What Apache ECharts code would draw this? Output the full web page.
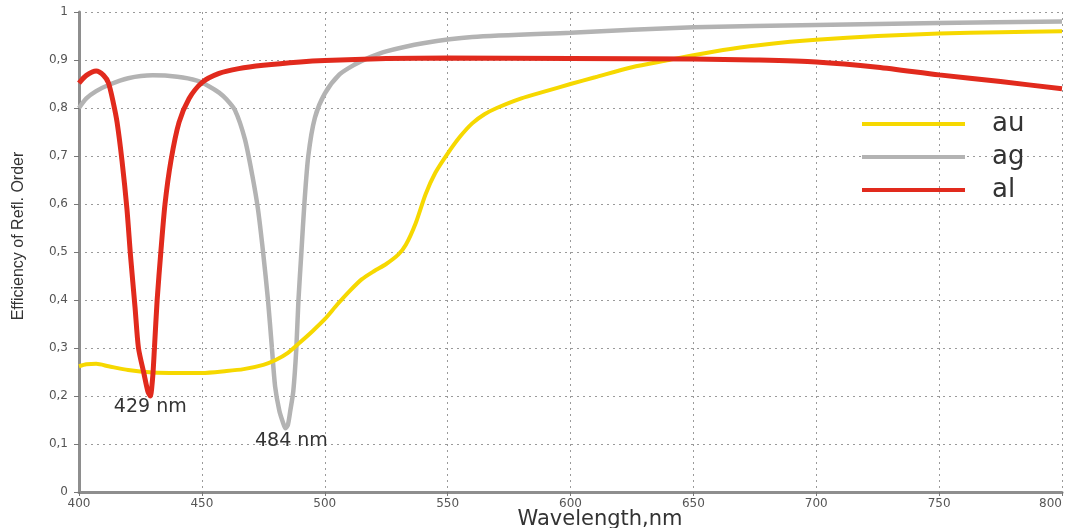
<!DOCTYPE html>
<html>
<head>
<meta charset="utf-8">
<script src="https://cdn.jsdelivr.net/npm/echarts@6/dist/echarts.min.js"></script>
<style>
  html, body { margin: 0; padding: 0; background: #fff; }
  #chart { width: 1070px; height: 528px; }
</style>
</head>
<body>
<div id="chart"></div>
<script>
// Reflection-order efficiency of gratings coated with gold, silver and aluminium
const auWavelength = [400, 403, 407, 412, 420, 430, 440, 450, 460, 467, 475, 480, 485, 490, 495, 500, 505, 510, 515, 520, 525, 530, 533, 537, 541, 545, 550, 555, 560, 565, 570, 580, 590, 600, 610, 625, 640, 650, 665, 680, 700, 725, 750, 775, 800];
const auEfficiency = [0.262, 0.266, 0.267, 0.262, 0.254, 0.249, 0.248, 0.248, 0.252, 0.256, 0.265, 0.275, 0.29, 0.312, 0.335, 0.36, 0.39, 0.418, 0.443, 0.46, 0.475, 0.495, 0.515, 0.56, 0.62, 0.665, 0.705, 0.74, 0.768, 0.787, 0.80, 0.82, 0.835, 0.85, 0.864, 0.885, 0.9, 0.91, 0.923, 0.933, 0.942, 0.95, 0.955, 0.958, 0.96];

const agWavelength = [400, 403, 407, 412, 420, 430, 440, 448, 453, 457, 460, 463.5, 467.5, 470.5, 472.8, 474.9, 476.9, 478.5, 479.8, 481.5, 483, 484, 485, 486, 487.2, 488.4, 489.3, 490.5, 491.7, 493.3, 496, 500, 506, 512, 518, 525, 540, 560, 600, 650, 700, 750, 800];
const agEfficiency = [0.80, 0.82, 0.835, 0.848, 0.862, 0.868, 0.865, 0.857, 0.845, 0.832, 0.818, 0.795, 0.735, 0.66, 0.59, 0.50, 0.40, 0.30, 0.22, 0.17, 0.145, 0.133, 0.14, 0.17, 0.21, 0.296, 0.40, 0.50, 0.60, 0.70, 0.78, 0.83, 0.87, 0.89, 0.905, 0.918, 0.935, 0.948, 0.957, 0.968, 0.973, 0.977, 0.98];

const alWavelength = [400, 403, 407, 410, 412, 414, 415.5, 417.5, 419.5, 421, 422.8, 424.2, 426.5, 428, 429, 430, 430.7, 431.8, 433.3, 435, 437.4, 440.7, 444.8, 450, 457, 465, 475, 490, 500, 525, 550, 600, 650, 675, 700, 725, 750, 775, 800];
const alEfficiency = [0.852, 0.868, 0.877, 0.868, 0.852, 0.81, 0.77, 0.69, 0.59, 0.49, 0.385, 0.30, 0.245, 0.21, 0.20, 0.24, 0.30, 0.40, 0.50, 0.60, 0.69, 0.77, 0.82, 0.853, 0.872, 0.882, 0.889, 0.896, 0.899, 0.903, 0.904, 0.903, 0.902, 0.900, 0.896, 0.885, 0.869, 0.855, 0.84];

const seriesNames = ['au', 'ag', 'al'];
const seriesColors = { au: '#f6d800', ag: '#b3b3b3', al: '#e12a1d' };

const xTicks = { min: 400, max: 800, step: 50 };
const yTicks = { min: 0, max: 1, step: 0.1 };

const FONT = 'DejaVu Sans';

function pairs(xs, ys) { return xs.map((x, i) => [x, ys[i]]); }

// the wavelength of the deepest dip of a curve
function dip(xs, ys) {
  let k = 0;
  ys.forEach((v, i) => { if (v < ys[k]) k = i; });
  return [xs[k], ys[k]];
}

const alDip = dip(alWavelength, alEfficiency);
const agDip = dip(agWavelength, agEfficiency);

function dipMarker(point, offset, distance) {
  return {
    symbol: 'circle',
    symbolSize: 1,
    itemStyle: { color: 'rgba(0,0,0,0)' },
    silent: true,
    label: {
      show: true,
      position: 'bottom',
      distance: distance,
      offset: offset,
      formatter: point[0] + ' nm',
      color: '#333',
      fontSize: 19,
      fontFamily: FONT
    },
    data: [{ coord: point }]
  };
}

const gridLine = { show: true, lineStyle: { color: '#9a9a9a', width: 1, type: [2, 4] } };

const chart = echarts.init(document.getElementById('chart'), null, { renderer: 'canvas' });
chart.setOption({
  animation: false,
  backgroundColor: '#fff',
  grid: { left: 79, right: 8, top: 12, bottom: 36, containLabel: false, outerBoundsMode: 'none' },
  legend: {
    orient: 'vertical',
    left: 862,
    top: 111,
    padding: 0,
    itemWidth: 103,
    itemHeight: 4,
    itemGap: 7,
    icon: 'rect',
    data: seriesNames,
    textStyle: {
      color: '#333',
      fontSize: 26,
      lineHeight: 26,
      fontFamily: FONT,
      padding: [0, 0, 0, 22]
    }
  },
  xAxis: {
    type: 'value',
    min: xTicks.min,
    max: xTicks.max,
    interval: xTicks.step,
    name: 'Wavelength,nm',
    nameLocation: 'middle',
    nameMoveOverlap: false,
    nameGap: 17,
    nameTextStyle: {
      color: '#333',
      fontSize: 21,
      fontFamily: FONT,
      verticalAlign: 'top',
      padding: [0, 0, 0, 59]
    },
    axisLine: { show: true, lineStyle: { color: '#8e8e8e', width: 3 } },
    axisTick: { show: true, length: 4, lineStyle: { color: '#777', width: 1 } },
    axisLabel: { color: '#555', fontSize: 12, margin: 6, fontFamily: FONT, alignMaxLabel: 'right' },
    splitLine: gridLine
  },
  yAxis: {
    type: 'value',
    min: yTicks.min,
    max: yTicks.max,
    interval: yTicks.step,
    name: 'Efficiency of Refl. Order',
    nameLocation: 'middle',
    nameMoveOverlap: false,
    nameGap: 52,
    nameTextStyle: {
      color: '#333',
      fontSize: 16,
      fontFamily: 'Liberation Sans',
      padding: [0, 0, 0, 32]
    },
    axisLine: { show: true, lineStyle: { color: '#8e8e8e', width: 3 } },
    axisTick: { show: true, length: 5, lineStyle: { color: '#777', width: 1 } },
    axisLabel: {
      color: '#555',
      fontSize: 12,
      margin: 11,
      fontFamily: FONT,
      formatter: v => (v === 0 || v === 1) ? String(v) : v.toFixed(1).replace('.', ',')
    },
    splitLine: gridLine
  },
  series: [
    {
      name: 'ag',
      type: 'line',
      data: pairs(agWavelength, agEfficiency),
      showSymbol: false,
      smooth: 0.25,
      lineStyle: { color: seriesColors.ag, width: 4.5 },
      itemStyle: { color: seriesColors.ag },
      markPoint: dipMarker(agDip, [6, 0], 3),
      z: 2
    },
    {
      name: 'au',
      type: 'line',
      data: pairs(auWavelength, auEfficiency),
      showSymbol: false,
      smooth: 0.25,
      lineStyle: { color: seriesColors.au, width: 4 },
      itemStyle: { color: seriesColors.au },
      z: 3
    },
    {
      name: 'al',
      type: 'line',
      data: pairs(alWavelength, alEfficiency),
      showSymbol: false,
      smooth: 0.25,
      lineStyle: { color: seriesColors.al, width: 5 },
      itemStyle: { color: seriesColors.al },
      markPoint: dipMarker(alDip, [0, 0], 1),
      z: 4
    }
  ]
});
</script>
</body>
</html>
